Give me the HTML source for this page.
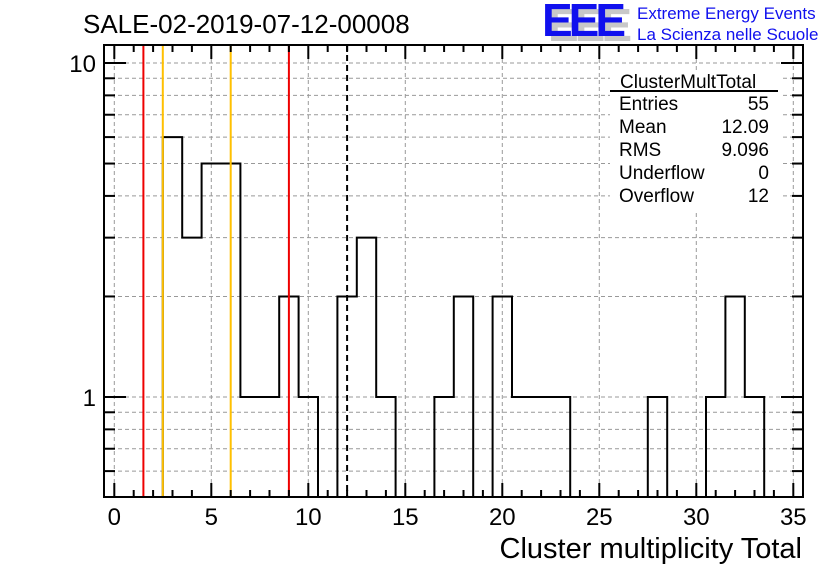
<!DOCTYPE html>
<html><head><meta charset="utf-8"><style>
body{margin:0;background:#fff;}
svg{display:block;font-family:"Liberation Sans",sans-serif;}
</style></head><body>
<svg id="chart" width="836" height="572" viewBox="0 0 836 572" xmlns="http://www.w3.org/2000/svg">
<rect width="836" height="572" fill="#fff"/>
<text x="83" y="33" font-size="26" fill="#000">SALE-02-2019-07-12-00008</text>
<g>
<text x="548" y="41" font-size="46" font-weight="bold" fill="#c8c8c8" letter-spacing="-4">EEE</text>
<text x="542" y="36" font-size="46" font-weight="bold" fill="#1010ee" letter-spacing="-4">EEE</text>
<text x="637" y="19" font-size="17" fill="#1010ee">Extreme Energy Events</text>
<text x="637" y="40" font-size="17" fill="#1010ee">La Scienza nelle Scuole</text>
</g>
<g id="grid"></g>
<g id="hist"></g>
<g id="vlines"></g>
<g id="axes"></g>
<g font-size="19" fill="#000">
<rect x="610" y="70" width="170" height="140" fill="#fff"/>
<text x="620" y="88">ClusterMultTotal</text>
<line x1="610" y1="91" x2="778" y2="91" stroke="#000" stroke-width="2"/>
<text x="619" y="110">Entries</text><text x="769" y="110" text-anchor="end">55</text>
<text x="619" y="133">Mean</text><text x="769" y="133" text-anchor="end">12.09</text>
<text x="619" y="156">RMS</text><text x="769" y="156" text-anchor="end">9.096</text>
<text x="619" y="179">Underflow</text><text x="769" y="179" text-anchor="end">0</text>
<text x="619" y="202">Overflow</text><text x="769" y="202" text-anchor="end">12</text>
</g>
<text x="802" y="558" font-size="29" text-anchor="end">Cluster multiplicity Total</text>
</svg>
<script>
const binCenters=[3,4,5,6,7,8,9,10,11,12,13,14,15,16,17,18,19,20,21,22,23,24,25,26,27,28,29,30,31,32,33];
const binCounts=[6,3,5,5,1,1,2,1,0,2,3,1,0,0,1,2,0,2,1,1,1,0,0,0,0,1,0,0,1,2,1];
const xTicks=[0,5,10,15,20,25,30,35];
const yTickLabels=[1,10];
const markerValues=[1.5,2.5,6,9,12];
const markerColors=['#ee0000','#ffc000','#ffc000','#ee0000','#000'];
const NS='http://www.w3.org/2000/svg';
const L=104,R=803,T=45,B=497;
const x0=114.3,xs=19.4;
const X=v=>x0+v*xs;
const y1=397,dec=334;
const Y=v=>v<=0?B:Math.min(B,y1-Math.log10(v)*dec);
function mk(tag,a,p){const e=document.createElementNS(NS,tag);for(const k in a)e.setAttribute(k,a[k]);p.appendChild(e);return e;}
const grid=document.getElementById('grid'),axes=document.getElementById('axes');
xTicks.forEach(v=>{const g=mk('line',{x1:X(v),x2:X(v),y1:T,y2:B,stroke:'#999','stroke-dasharray':'4,3','stroke-width':1},grid);});
const yMinor=[0.6,0.7,0.8,0.9,1,2,3,4,5,6,7,8,9,10];
yMinor.forEach(v=>{const g=mk('line',{x1:L,x2:R,y1:Y(v),y2:Y(v),stroke:'#999','stroke-dasharray':'4,3','stroke-width':1},grid);});
let d='';let prev=0;
binCenters.forEach((c,i)=>{const l=X(c-0.5),r=X(c+0.5),h=Y(binCounts[i]);
 d+=(i==0?`M${l},${Y(prev)}`:'')+`L${l},${h}L${r},${h}`;prev=binCounts[i];});
d+=`L${X(binCenters[binCenters.length-1]+0.5)},${B}`;
const hp=mk('path',{d:d,fill:'none',stroke:'#000','stroke-width':2},document.getElementById('hist'));


markerValues.forEach((v,i)=>{const a={x1:X(v),x2:X(v),y1:T,y2:B,stroke:markerColors[i],'stroke-width':2};if(i==4)a['stroke-dasharray']='6,4';const e=mk('line',a,document.getElementById('vlines'));});
const fr=mk('rect',{x:L,y:T,width:R-L,height:B-T,fill:'none',stroke:'#000','stroke-width':2},axes);


for(let v=0;v<=35;v++){const big=v%5==0,len=big?14:7;
 mk('line',{x1:X(v),x2:X(v),y1:B,y2:B-len,stroke:'#000','stroke-width':2},axes);
 mk('line',{x1:X(v),x2:X(v),y1:T,y2:T+len,stroke:'#000','stroke-width':2},axes);}
xTicks.forEach(v=>{const t=mk('text',{x:X(v),y:B+28,'font-size':24,'text-anchor':'middle'},axes);t.textContent=v;});
yMinor.forEach(v=>{const big=(v==1||v==10),len=big?22:11;
 mk('line',{x1:L,x2:L+len,y1:Y(v),y2:Y(v),stroke:'#000','stroke-width':2},axes);
 mk('line',{x1:R,x2:R-len,y1:Y(v),y2:Y(v),stroke:'#000','stroke-width':2},axes);});
yTickLabels.forEach(v=>{const t=mk('text',{x:L-8,y:Y(v)+9,'font-size':24,'text-anchor':'end'},axes);t.textContent=v;});
</script>
</body></html>
